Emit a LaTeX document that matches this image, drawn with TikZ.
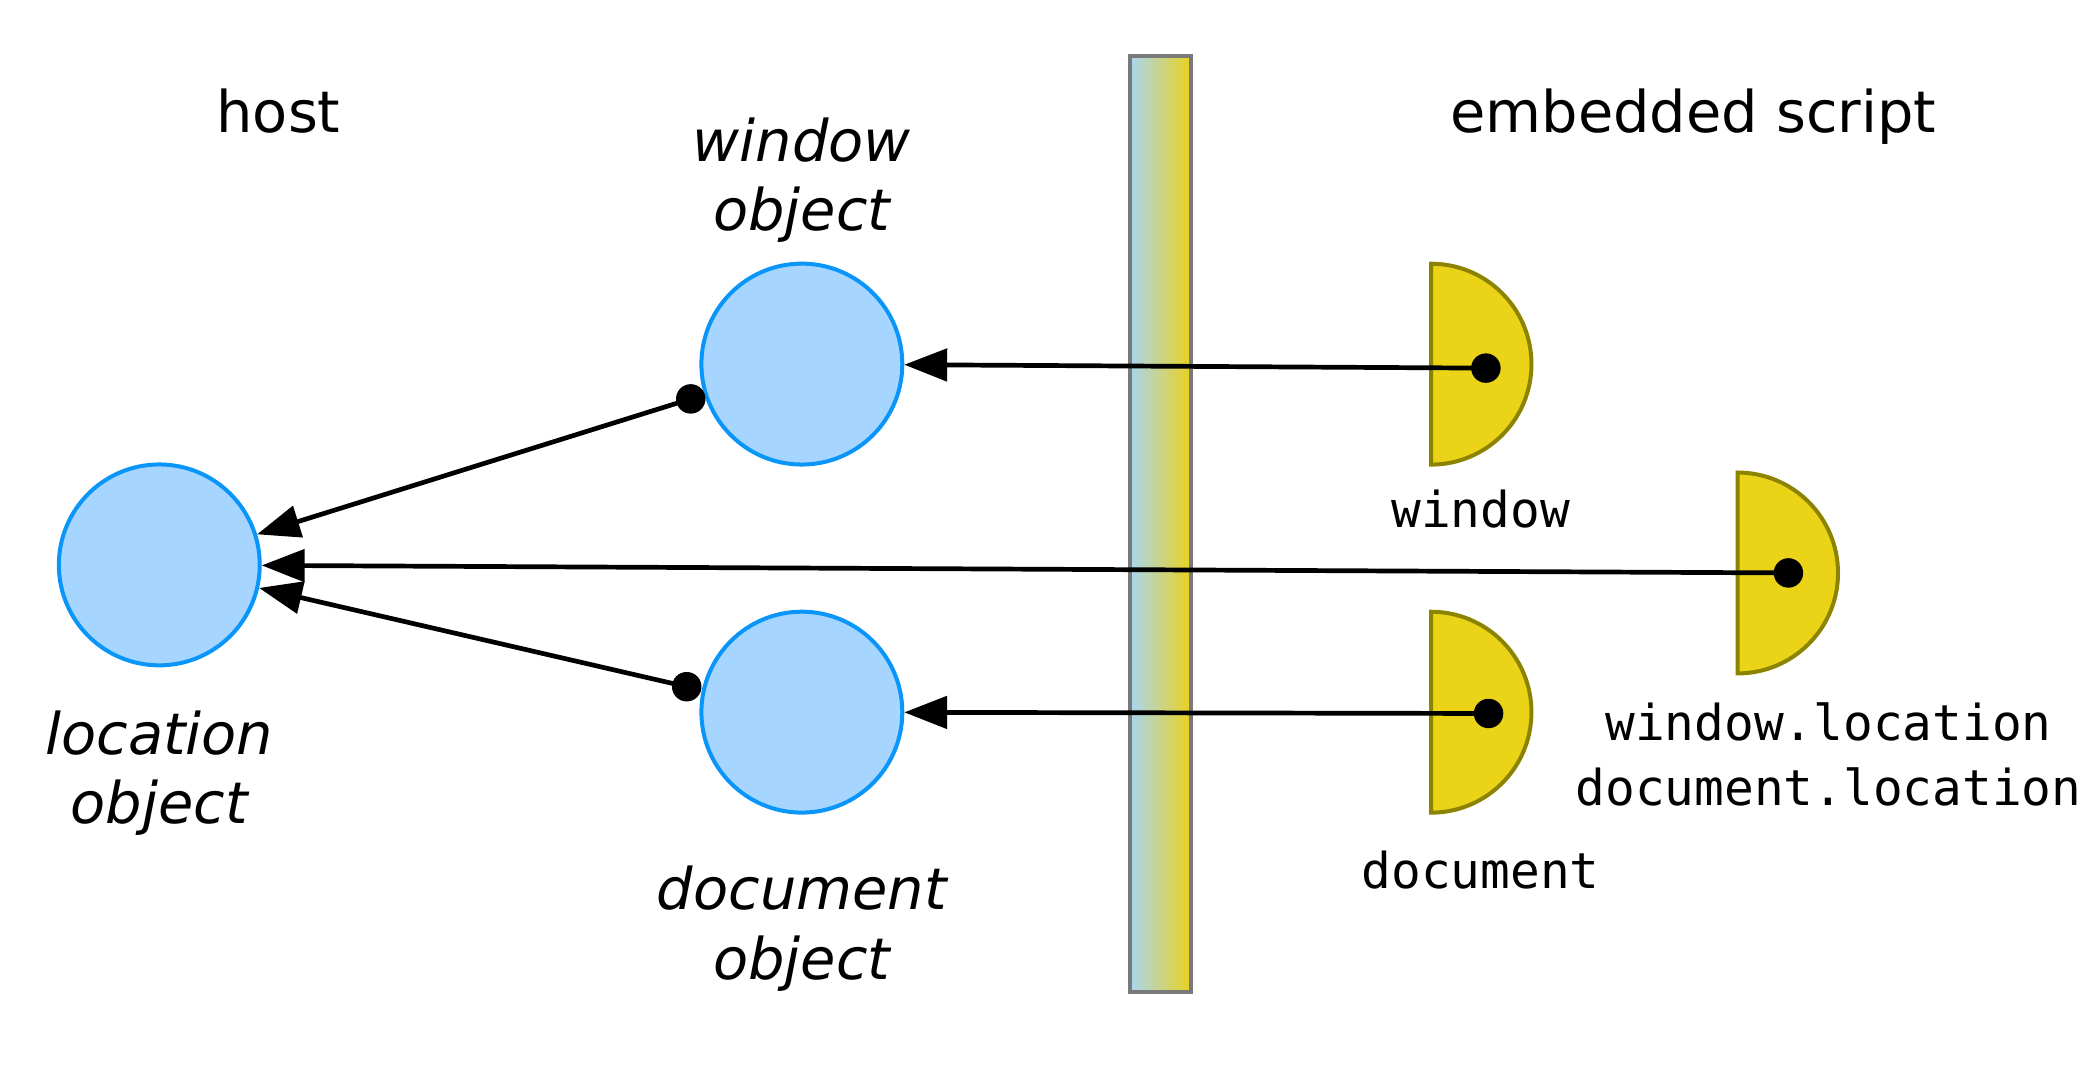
\documentclass[tikz,border=0pt]{standalone}
\usepackage{fontspec}
\setmainfont{DejaVu Sans}
\setmonofont{DejaVu Sans Mono}
\usetikzlibrary{arrows.meta,shapes.geometric}
\definecolor{objfill}{HTML}{A6D5FF}
\definecolor{objline}{HTML}{0A96F8}
\definecolor{refill}{HTML}{EBD417}
\definecolor{refline}{HTML}{8C8400}
\definecolor{barleft}{HTML}{A8D6F2}
\definecolor{barright}{HTML}{EBD21C}
\begin{document}
\begin{tikzpicture}[x=0.01cm,y=0.01cm,
  obj/.style={circle,draw=objline,fill=objfill,line width=0.85pt,minimum size=1.5cm,inner sep=0pt},
  refshape/.style={draw=refline,fill=refill,line width=0.85pt},
  dotn/.style={circle,fill=black,minimum size=0.22cm,inner sep=0pt},
  conn/.style={line width=1pt,-{Triangle[length=0.32cm,width=0.24cm]}},
  lbl/.style={font=\fontsize{12.2pt}{14.8pt}\selectfont,inner sep=0pt},
  ilbl/.style={font=\fontsize{12.2pt}{14.8pt}\selectfont\itshape,align=center,inner sep=0pt},
  mlbl/.style={font=\fontsize{10.5pt}{13.9pt}\selectfont\ttfamily,align=center,inner sep=0pt}]
\useasboundingbox (0,0) rectangle (1568,797);
% barrier
\draw[draw=gray!95!black,line width=0.85pt,left color=barleft,right color=barright] (844,56) rectangle (890,755);
% host objects
\node[obj] (win) at (599,525) {};
\node[obj] (doc) at (599,265) {};
\node[obj] (loc) at (119,375) {};
% embedded references (half circles)
\draw[refshape] (1069,600) arc[start angle=90,end angle=-90,radius=0.75cm] -- cycle;
\draw[refshape] (1298,444) arc[start angle=90,end angle=-90,radius=0.75cm] -- cycle;
\draw[refshape] (1069,340) arc[start angle=90,end angle=-90,radius=0.75cm] -- cycle;
% dots
\node[dotn] (wd) at (1110,522) {};
\node[dotn] (ld) at (1336,369) {};
\node[dotn] (dd) at (1112,264) {};
\node[dotn] (wo) at (516,499) {};
\node[dotn] (do) at (513,284) {};
% connectors
\draw[conn] (wd.center) -- (win);
\draw[conn] (dd.center) -- (doc);
\draw[conn] (ld.center) -- (loc);
\draw[conn] (wo.center) -- (loc);
\draw[conn] (do.center) -- (loc);
% labels
\node[lbl,anchor=base] (host) at (208,698) {host};
\node[lbl,anchor=base] (emb) at (1265,698) {embedded script};
\node[ilbl,anchor=south] (winl) at (599,615) {window\\object};
\node[ilbl,anchor=north] (locl) at (119,267) {location\\object};
\node[ilbl,anchor=north] (docl) at (599,151) {document\\object};
\node[mlbl,anchor=north] (wl) at (1106,432) {window};
\node[mlbl,anchor=north] (wll) at (1366,273) {window.location\\document.location};
\node[mlbl,anchor=north] (dl) at (1106,162) {document};
\end{tikzpicture}
\end{document}
